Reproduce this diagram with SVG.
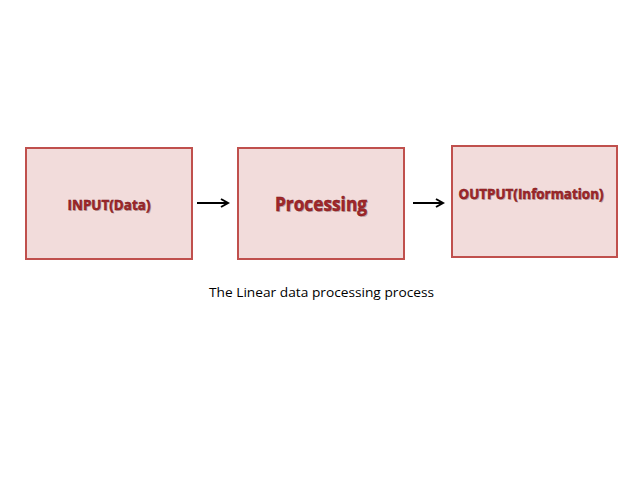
<svg xmlns="http://www.w3.org/2000/svg" width="638" height="479" viewBox="0 0 638 479">
<defs>
<style>
.box{fill:#f2dcdb;stroke:#c0504d;stroke-width:2}
.lbl{font-family:"Open Sans","Liberation Sans",sans-serif;font-weight:bold;fill:#a3262a;stroke:#7a1a1c;stroke-width:0.5}
.sh{font-family:"Open Sans","Liberation Sans",sans-serif;font-weight:bold;fill:#8a6a6a;opacity:0.45}
.cap{font-family:"Open Sans","Liberation Sans",sans-serif;font-size:12.5px;fill:#000}
.conn{stroke:#000;stroke-width:2;fill:none}
</style>
<marker id="ah" markerWidth="10" markerHeight="10" refX="8" refY="5" orient="auto" markerUnits="userSpaceOnUse">
<path d="M1,1 L8,5 L1,9" fill="none" stroke="#000" stroke-width="2"/>
</marker>
</defs>
<rect width="638" height="479" fill="#fff"/>
<g id="node-input">
<rect class="box" x="26" y="148" width="166" height="111"/>
<text class="sh" x="110" y="211" font-size="14" text-anchor="middle" textLength="83" lengthAdjust="spacingAndGlyphs">INPUT(Data)</text>
<text class="lbl" x="109" y="210" font-size="14" text-anchor="middle" textLength="83" lengthAdjust="spacingAndGlyphs">INPUT(Data)</text>
</g>
<g id="node-processing">
<rect class="box" x="238" y="148" width="166" height="111"/>
<text class="sh" x="322" y="212" font-size="19" text-anchor="middle" textLength="92" lengthAdjust="spacingAndGlyphs">Processing</text>
<text class="lbl" x="321" y="211" font-size="19" text-anchor="middle" textLength="92" lengthAdjust="spacingAndGlyphs">Processing</text>
</g>
<g id="node-output">
<rect class="box" x="452" y="146" width="165" height="111"/>
<text class="sh" x="532" y="200" font-size="14" text-anchor="middle" textLength="145" lengthAdjust="spacingAndGlyphs">OUTPUT(Information)</text>
<text class="lbl" x="531" y="199" font-size="14" text-anchor="middle" textLength="145" lengthAdjust="spacingAndGlyphs">OUTPUT(Information)</text>
</g>
<g id="connectors">
<line class="conn" x1="197" y1="203" x2="228" y2="203" marker-end="url(#ah)"/>
<line class="conn" x1="413" y1="203" x2="443" y2="203" marker-end="url(#ah)"/>
</g>
<text class="cap" x="209" y="297" textLength="225" lengthAdjust="spacingAndGlyphs">The Linear data processing process</text>
</svg>
